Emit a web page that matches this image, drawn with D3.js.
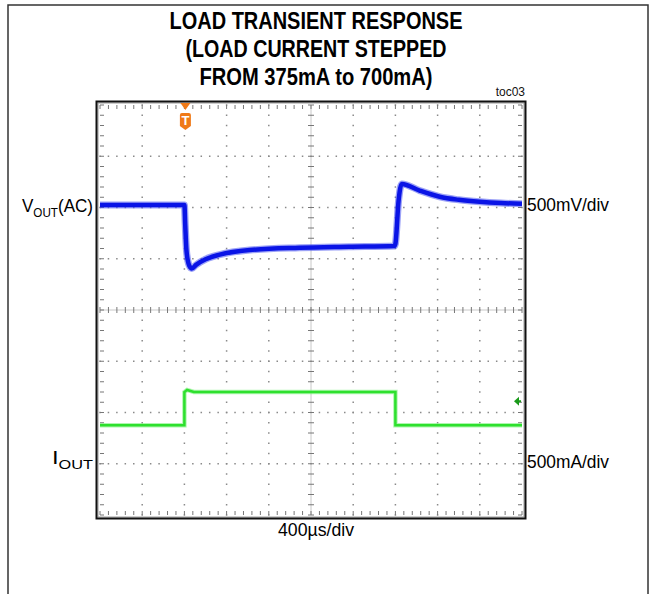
<!DOCTYPE html>
<html><head><meta charset="utf-8">
<script src="https://cdn.jsdelivr.net/npm/d3@7"></script>
<style>html,body{margin:0;padding:0;background:#fff;}svg{display:block;}</style>
</head><body>
<script>
// ---- data ----
const titleLines = ["LOAD TRANSIENT RESPONSE", "(LOAD CURRENT STEPPED", "FROM 375mA to 700mA)"];
const timePerDiv = 400;          // µs/div
const voltPerDiv = 500;          // mV/div
const ampPerDiv = 500;           // mA/div
const vOffsetDiv = 2.05;         // channel 1 position (divisions)
const iOffsetDiv = -3;           // channel 2 position (divisions)
const triggerTime = 0;           // µs
const triggerLevel = 610;        // mA
// VOUT (AC) trace, mV deviation
const vTime = [-800, 0, 8, 20, 45, 70, 110, 200, 335, 620, 1090, 1560, 1990, 2000, 2030, 2060, 2230, 2420, 2600, 2800, 3000, 3200];
const vOut  = [0,    0, -200, -450, -590, -620, -585, -530, -485, -440, -418, -408, -400, -380, 40, 205, 140, 80, 50, 30, 18, 12];
// IOUT trace, mA
const iTime = [-800, 0, 0, 25, 90, 2000, 2000, 3200];
const iOut  = [375, 375, 700, 720, 700, 700, 375, 375];

// ---- layout ----
const W = 655, H = 594;
const L = 100, R = 522, T = 105, B = 515;
const svg = d3.select("body").append("svg").attr("width", W).attr("height", H);
const font = "'Liberation Sans Narrow','Liberation Sans',Arial,sans-serif";

svg.append("rect").attr("x", 8).attr("y", 5).attr("width", 640).attr("height", 600)
  .attr("fill", "none").attr("stroke", "#333").attr("stroke-width", 1.5);

// title
const tw = [293, 261, 233];
titleLines.forEach((t, i) => {
  svg.append("text").attr("x", 316).attr("y", 29 + i * 28).attr("text-anchor", "middle")
    .attr("font-family", font).attr("font-weight", "bold").attr("font-size", 24)
    .attr("textLength", tw[i]).attr("lengthAdjust", "spacingAndGlyphs").attr("fill", "#000").text(t);
});
svg.append("text").attr("x", 525).attr("y", 96).attr("text-anchor", "end")
  .attr("font-family", font).attr("font-size", 12).attr("fill", "#111").text("toc03");

// scales
const x = d3.scaleLinear().domain([-2 * timePerDiv, 8 * timePerDiv]).range([L, R]);
const yDiv = d3.scaleLinear().domain([-4, 4]).range([B, T]);
const yV = d3.scaleLinear().domain([(-4 - vOffsetDiv) * voltPerDiv, (4 - vOffsetDiv) * voltPerDiv]).range([B, T]);
const yI = d3.scaleLinear().domain([(-4 - iOffsetDiv) * ampPerDiv, (4 - iOffsetDiv) * ampPerDiv]).range([B, T]);

const g = svg.append("g");
const xMajor = d3.range(-800, 3201, timePerDiv);
const xMinor = d3.range(-800, 3201, timePerDiv / 5);
const yMajor = d3.range(-4, 4.01, 1);
const yMinor = d3.range(-4, 4.01, 0.2);

// dotted grid
xMajor.slice(1, -1).forEach(t => {
  if (t === 1200) return;
  yMinor.forEach(d => g.append("rect").attr("x", x(t) - 0.75).attr("y", yDiv(d) - 0.75)
    .attr("width", 1.5).attr("height", 1.5).attr("fill", "#8a8a8a"));
});
yMajor.slice(1, -1).forEach(d => {
  if (d === 0) return;
  xMinor.forEach(t => g.append("rect").attr("x", x(t) - 0.75).attr("y", yDiv(d) - 0.75)
    .attr("width", 1.5).attr("height", 1.5).attr("fill", "#8a8a8a"));
});
// center lines with ticks
g.append("line").attr("x1", x(1200)).attr("x2", x(1200)).attr("y1", T).attr("y2", B).attr("stroke", "#c8c8c8");
g.append("line").attr("x1", L).attr("x2", R).attr("y1", yDiv(0)).attr("y2", yDiv(0)).attr("stroke", "#c8c8c8");
yMinor.forEach(d => g.append("line").attr("x1", x(1200) - 3).attr("x2", x(1200) + 3)
  .attr("y1", yDiv(d)).attr("y2", yDiv(d)).attr("stroke", "#777"));
xMinor.forEach(t => g.append("line").attr("x1", x(t)).attr("x2", x(t))
  .attr("y1", yDiv(0) - 3).attr("y2", yDiv(0) + 3).attr("stroke", "#777"));
// edge ticks
xMinor.forEach(t => {
  g.append("line").attr("x1", x(t)).attr("x2", x(t)).attr("y1", T).attr("y2", T + 4).attr("stroke", "#777");
  g.append("line").attr("x1", x(t)).attr("x2", x(t)).attr("y1", B).attr("y2", B - 4).attr("stroke", "#777");
});
yMinor.forEach(d => {
  g.append("line").attr("x1", L).attr("x2", L + 4).attr("y1", yDiv(d)).attr("y2", yDiv(d)).attr("stroke", "#777");
  g.append("line").attr("x1", R).attr("x2", R - 4).attr("y1", yDiv(d)).attr("y2", yDiv(d)).attr("stroke", "#777");
});

// traces
const vLine = d3.line().x((d, i) => x(vTime[i])).y(d => yV(d)).curve(d3.curveMonotoneX);
const iLine = d3.line().x((d, i) => x(iTime[i])).y(d => yI(d));
svg.append("path").attr("d", iLine(iOut)).attr("fill", "none").attr("stroke", "#7af07a")
  .attr("stroke-width", 4.5).attr("opacity", 0.6);
svg.append("path").attr("d", iLine(iOut)).attr("fill", "none").attr("stroke", "#2ee02e")
  .attr("stroke-width", 2.5);
svg.append("path").attr("d", vLine(vOut)).attr("fill", "none").attr("stroke", "#4a55f0")
  .attr("stroke-width", 7).attr("stroke-linejoin", "round").attr("opacity", 0.55);
svg.append("path").attr("d", vLine(vOut)).attr("fill", "none").attr("stroke", "#0a14e6")
  .attr("stroke-width", 4.5).attr("stroke-linejoin", "round");

// frame
svg.append("rect").attr("x", L - 2).attr("y", T - 2).attr("width", R - L + 4).attr("height", B - T + 4)
  .attr("fill", "none").attr("stroke", "#9a9a9a").attr("stroke-width", 1);
svg.append("rect").attr("x", L - 3.5).attr("y", T - 3.5).attr("width", R - L + 7).attr("height", B - T + 7)
  .attr("fill", "none").attr("stroke", "#111").attr("stroke-width", 2);

// trigger marker
const tx = x(triggerTime) + 1;
svg.append("path").attr("d", `M${tx - 5},${T - 2} L${tx + 5},${T - 2} L${tx},${T + 5} Z`).attr("fill", "#f07a18");
svg.append("path").attr("d", `M${tx - 5.5},${T + 10} Q${tx - 5.5},${T + 8} ${tx - 3.5},${T + 8} L${tx + 3.5},${T + 8} Q${tx + 5.5},${T + 8} ${tx + 5.5},${T + 10} L${tx + 5.5},${T + 21} L${tx},${T + 25} L${tx - 5.5},${T + 21} Z`)
  .attr("fill", "#f07a18");
svg.append("text").attr("x", tx).attr("y", T + 20).attr("text-anchor", "middle").attr("font-family", font)
  .attr("font-weight", "bold").attr("font-size", 13).attr("fill", "#fff").text("T");
// trigger level arrow
const ty = yI(triggerLevel);
svg.append("path").attr("d", `M${R - 8},${ty} L${R - 3},${ty - 4.5} L${R - 3},${ty + 4.5} Z`).attr("fill", "#1a9a1a");
svg.append("line").attr("x1", R - 4).attr("x2", R - 1).attr("y1", ty).attr("y2", ty).attr("stroke", "#1a9a1a").attr("stroke-width", 2);

// labels
const lab = (xx, yy, anchor, parts, len) => {
  const t = svg.append("text").attr("x", xx).attr("y", yy).attr("text-anchor", anchor)
    .attr("font-family", font).attr("font-size", 19).attr("fill", "#000");
  parts.forEach(p => {
    const s = t.append("tspan").text(p.t);
    if (p.sub) s.attr("font-size", 13).attr("dy", 5);
    if (p.up) s.attr("dy", -5);
  });
  if (len) t.attr("textLength", len).attr("lengthAdjust", "spacingAndGlyphs");
};
lab(22, 212, "start", [{t: "V"}, {t: "OUT", sub: true}, {t: "(AC)", up: true}], 71);
lab(52, 464, "start", [{t: "I"}, {t: "OUT", sub: true}], 41);
lab(527, 211, "start", [{t: "500mV/div"}], 82);
lab(527, 468, "start", [{t: "500mA/div"}], 82);
lab(316, 536, "middle", [{t: "400µs/div"}], 76);
</script>
</body></html>
